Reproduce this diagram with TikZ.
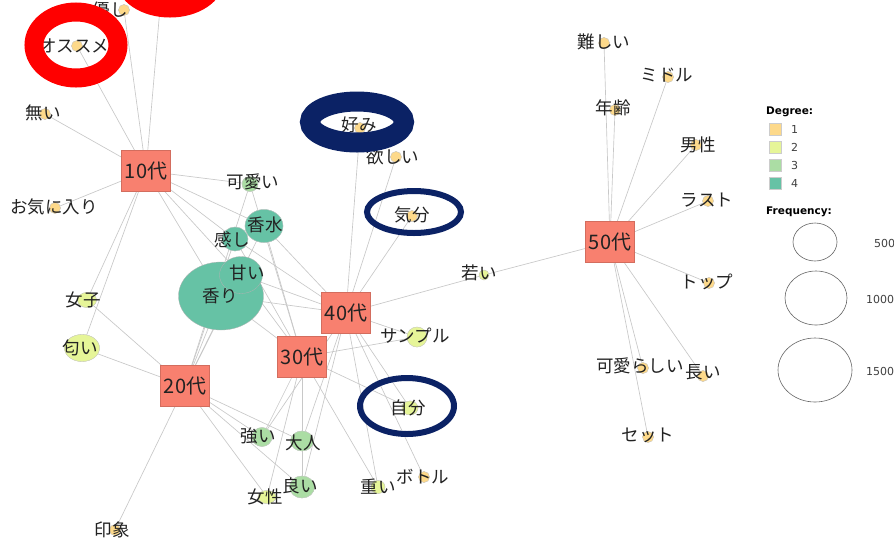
\documentclass[tikz,border=0pt]{standalone}
\usepackage{fontspec}
\newfontfamily\jp{Noto Sans CJK JP}
\newfontfamily\lgf{DejaVu Sans}
\usetikzlibrary{shapes.geometric}
\definecolor{deg1}{HTML}{FDD98A}
\definecolor{deg2}{HTML}{E6F598}
\definecolor{deg3}{HTML}{ABDDA4}
\definecolor{deg4}{HTML}{66C2A5}
\definecolor{boxc}{HTML}{F8806F}
\definecolor{edgec}{HTML}{C8C8C8}
\definecolor{navy}{HTML}{0B2265}
\definecolor{txt}{HTML}{222222}
\tikzset{
  edge/.style={draw=edgec, line width=0.65pt},
  agebox/.style={rectangle, fill=boxc, draw=boxc!85!black, line width=0.3pt, minimum width=49pt, minimum height=41pt, inner sep=0pt, text=txt, font=\jp\fontsize{20}{20}\selectfont},
  dot/.style={ellipse, inner sep=0pt, draw=black!22, line width=0.3pt},
  da/.style={dot, fill=deg1, minimum width=11pt, minimum height=11pt},
  db/.style={dot, fill=deg2},
  dc/.style={dot, fill=deg3},
  dd/.style={dot, fill=deg4},
  lbl/.style={inner sep=0pt, text=txt, font=\jp\fontsize{17.5}{17.5}\selectfont},
  redring/.style={draw=red, line width=19pt},
  navyring/.style={draw=navy},
  legtitle/.style={inner sep=0pt, anchor=west, font=\lgf\bfseries\fontsize{10.5}{11}\selectfont},
  legnum/.style={inner sep=0pt, anchor=west, text=black!75, font=\lgf\fontsize{11}{12}\selectfont},
  legsq/.style={rectangle, inner sep=0pt, minimum size=12pt, draw=black!20, line width=0.3pt},
  legcirc/.style={ellipse, inner sep=0pt, draw=black!60, line width=0.6pt},
}
\begin{document}
\begin{tikzpicture}[x=1pt,y=-1pt]
\useasboundingbox (0,0) rectangle (894,542);
\fill[white] (0,0) rectangle (894,542);

% age box centres (for edges)
\coordinate (c10) at (146,171);
\coordinate (c20) at (185,386);
\coordinate (c30) at (302,357);
\coordinate (c40) at (346,313);
\coordinate (c50) at (610,242);
\coordinate (hid) at (160,8);

% term dots (positions)
\node[da] (oss) at (77,46) {};
\node[da] (yas) at (124,10) {};
\node[da] (nai) at (45,114) {};
\node[da] (oki) at (55,208) {};
\node[dc, minimum width=16pt, minimum height=15pt] (kaw) at (250,184) {};
\node[dd, minimum width=26pt, minimum height=24pt] (kan) at (235,239) {};
\node[dd, minimum width=38pt, minimum height=33pt] (ksu) at (264,226) {};
\node[db, minimum width=19pt, minimum height=15pt] (joshi) at (87,300) {};
\node[db, minimum width=35pt, minimum height=27pt] (nioi) at (82,348) {};
\node[dc, minimum width=20pt, minimum height=19pt] (tsuy) at (262,437) {};
\node[dc, minimum width=23pt, minimum height=20pt] (otona) at (302,441) {};
\node[dc, minimum width=25pt, minimum height=22pt] (yoi) at (302,487) {};
\node[db, minimum width=18pt, minimum height=13pt] (josei) at (267,497) {};
\node[da] (insho) at (115,530) {};
\node[db, minimum width=14pt, minimum height=13pt] (omoi) at (378,487) {};
\node[da] (botoru) at (424,477) {};
\node[db, minimum width=16pt, minimum height=14pt] (jibun) at (410,408) {};
\node[db, minimum width=20pt, minimum height=20pt] (sample) at (417,337) {};
\node[db, minimum width=10pt, minimum height=10pt] (wakai) at (484,275) {};
\node[da] (kibun) at (412,216) {};
\node[da] (hoshii) at (396,157) {};
\node[da] (konomi) at (360,128) {};
\node[da] (muzu) at (604,43) {};
\node[da] (midoru) at (668,77) {};
\node[da] (nenrei) at (615,110) {};
\node[da] (dansei) at (696,145) {};
\node[da] (rasuto) at (708,201) {};
\node[da] (toppu) at (709,283) {};
\node[da] (kawara) at (643,368) {};
\node[da] (nagai) at (703,376) {};
\node[da] (setto) at (648,437) {};
\coordinate (amac) at (241,275);
\coordinate (kaoc) at (221,296);

% edges
\foreach \t in {oss,yas,hid,nai,oki,kaw,ksu,kan,joshi,nioi,amac,kaoc}
  \draw[edge] (c10) -- (\t);
\foreach \t in {ksu,kan,joshi,nioi,kaw,insho,tsuy,otona,yoi,josei,amac,kaoc}
  \draw[edge] (c20) -- (\t);
\foreach \t in {ksu,kan,kaw,tsuy,otona,yoi,josei,omoi,jibun,sample,amac,kaoc}
  \draw[edge] (c30) -- (\t);
\foreach \t in {ksu,kan,tsuy,otona,yoi,omoi,jibun,sample,botoru,kibun,hoshii,konomi,wakai,amac,kaoc}
  \draw[edge] (c40) -- (\t);
\foreach \t in {wakai,muzu,midoru,nenrei,dansei,rasuto,toppu,kawara,nagai,setto}
  \draw[edge] (c50) -- (\t);

% redraw dots over edges
\foreach \t/\s/\w/\h in {kaw/dc/16/15, kan/dd/26/24, ksu/dd/38/33, joshi/db/19/15, nioi/db/35/27, tsuy/dc/20/19, otona/dc/23/20, yoi/dc/25/22, josei/db/18/13, omoi/db/14/13, jibun/db/16/14, sample/db/20/20, wakai/db/10/10}
  \node[\s, minimum width=\w pt, minimum height=\h pt] at (\t.center) {};
\foreach \t in {oss,yas,nai,oki,insho,botoru,kibun,hoshii,konomi,muzu,midoru,nenrei,dansei,rasuto,toppu,kawara,nagai,setto}
  \node[da] at (\t.center) {};
\node[dd, minimum width=85pt, minimum height=68pt, draw=black!30] (kaori) at (kaoc) {};
\node[dd, minimum width=43pt, minimum height=37pt, draw=black!30] (amai) at (amac) {};

% age boxes
\node[agebox] (a10) at (c10) {10代};
\node[agebox] (a20) at (c20) {20代};
\node[agebox] (a30) at (c30) {30代};
\node[agebox] (a40) at (c40) {40代};
\node[agebox] (a50) at (c50) {50代};

% labels
\node[lbl] (l-yas) at (110,10) {優し};
\node[lbl] (l-oss) at (74,46) {オススメ};
\node[lbl] (l-nai) at (43,113) {無い};
\node[lbl] (l-oki) at (54,207) {お気に入り};
\node[lbl] (l-kaw) at (253,182) {可愛い};
\node[lbl] (l-ksu) at (265,225) {香水};
\node[lbl] (l-kan) at (232,240) {感し};
\node[lbl] (l-ama) at (247,273) {甘い};
\node[lbl] (l-kao) at (220,296) {香り};
\node[lbl] (l-joshi) at (83,300) {女子};
\node[lbl] (l-nioi) at (80,348) {匂い};
\node[lbl] (l-tsuy) at (258,436) {強い};
\node[lbl] (l-otona) at (303,443) {大人};
\node[lbl] (l-yoi) at (300,486) {良い};
\node[lbl] (l-josei) at (265,497) {女性};
\node[lbl] (l-insho) at (112,530) {印象};
\node[lbl] (l-omoi) at (378,487) {重い};
\node[lbl] (l-botoru) at (423,477) {ボトル};
\node[lbl] (l-jibun) at (408,408) {自分};
\node[lbl] (l-sample) at (415,336) {サンプル};
\node[lbl] (l-wakai) at (479,273) {若い};
\node[lbl] (l-kibun) at (412,215) {気分};
\node[lbl] (l-hoshii) at (393,157) {欲しい};
\node[lbl] (l-konomi) at (359,125) {好み};
\node[lbl] (l-muzu) at (604,42) {難しい};
\node[lbl] (l-midoru) at (667,75) {ミドル};
\node[lbl] (l-nenrei) at (613,108) {年齢};
\node[lbl] (l-dansei) at (698,145) {男性};
\node[lbl] (l-rasuto) at (707,200) {ラスト};
\node[lbl] (l-toppu) at (707,282) {トップ};
\node[lbl] (l-kawara) at (640,366) {可愛らしい};
\node[lbl] (l-nagai) at (703,372) {長い};
\node[lbl] (l-setto) at (648,435) {セット};

% highlight rings
\draw[redring] (76,45) ellipse [x radius=42, y radius=33];
\draw[redring] (170,-22) ellipse [x radius=45, y radius=30];
\draw[navyring, line width=20pt] (357,122) ellipse [x radius=47, y radius=20.5];
\draw[navyring, line width=6pt] (414,212) ellipse [x radius=47, y radius=21];
\draw[navyring, line width=6pt] (407,406) ellipse [x radius=47, y radius=28];

% legend
\node[legtitle] (lt1) at (766,112) {Degree:};
\node[legsq, fill=deg1] (s1) at (775,129) {};
\node[legsq, fill=deg2] (s2) at (775,147) {};
\node[legsq, fill=deg3] (s3) at (775,165) {};
\node[legsq, fill=deg4] (s4) at (775,183) {};
\node[legnum] (n1) at (791,129) {1};
\node[legnum] (n2) at (791,147) {2};
\node[legnum] (n3) at (791,165) {3};
\node[legnum] (n4) at (791,183) {4};
\node[legtitle] (lt2) at (766,212) {Frequency:};
\node[legcirc, minimum width=44pt, minimum height=38pt] (f1) at (815,242) {};
\node[legcirc, minimum width=62pt, minimum height=54pt] (f2) at (816,298) {};
\node[legcirc, minimum width=74pt, minimum height=64pt] (f3) at (815,370) {};
\node[legnum] (fn1) at (874,243) {500};
\node[legnum] (fn2) at (866,299) {1000};
\node[legnum] (fn3) at (866,371) {1500};
\end{tikzpicture}
\end{document}
